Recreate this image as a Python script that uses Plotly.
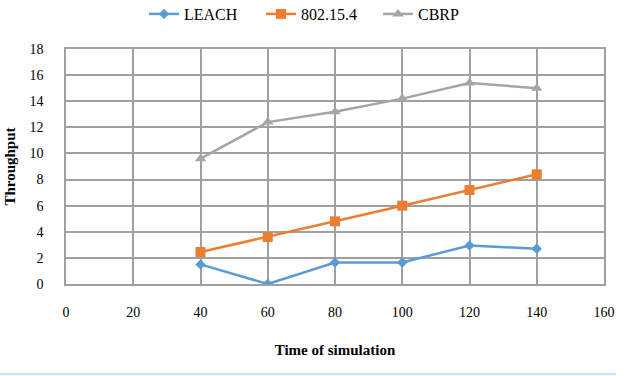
import plotly.graph_objects as go

time = [40, 60, 80, 100, 120, 140]
leach = [1.5, 0.0, 1.65, 1.65, 2.95, 2.7]
ieee = [2.45, 3.6, 4.8, 6.0, 7.2, 8.4]
cbrp = [9.6, 12.4, 13.2, 14.2, 15.4, 15.0]

series = [("LEACH", leach, "#5B9BD5", "diamond", 8),
          ("802.15.4", ieee, "#ED7D31", "square", 10),
          ("CBRP", cbrp, "#A5A5A5", "triangle-up", 10)]

fig = go.Figure()
for name, ys, col, sym, sz in series:
    fig.add_trace(go.Scatter(x=time, y=ys, name=name, mode="lines+markers",
                             line=dict(color=col, width=2.5),
                             marker=dict(symbol=sym, size=sz, color=col)))

FAM = "Liberation Serif"
font = dict(family=FAM, color="#000000", size=14)
fig.update_layout(
    width=629, height=376,
    margin=dict(l=66, r=25, t=49, b=92),
    paper_bgcolor="white", plot_bgcolor="white",
    font=font,
    showlegend=True,
    legend=dict(orientation="h", x=(144 - 66) / 538, xanchor="left",
                y=1 - 14 / 376, yanchor="middle",
                yref="container", font=dict(size=16, family=FAM),
                entrywidth=72, entrywidthmode="pixels"),
    xaxis=dict(range=[0, 160], dtick=20, tick0=0, showgrid=True, gridcolor="#A0A0A0",
               gridwidth=1.5, zeroline=False, showline=True, linecolor="#A0A0A0",
               linewidth=1.5, mirror=True, ticks="", ticklabelstandoff=14,
               automargin=False,
               tickfont=dict(family=FAM, size=14),
               title=dict(text="<b>Time of simulation</b>", font=dict(family=FAM, size=15), standoff=26)),
    yaxis=dict(range=[0, 18], dtick=2, tick0=0, showgrid=True, gridcolor="#A0A0A0",
               gridwidth=1.5, zeroline=False, showline=True, linecolor="#A0A0A0",
               linewidth=1.5, mirror=True, ticks="", ticklabelstandoff=18,
               automargin=False,
               tickfont=dict(family=FAM, size=14),
               title=dict(text="<b>Throughput</b>", font=dict(family=FAM, size=15), standoff=10)),
)
fig.add_shape(type="line", xref="paper", yref="paper", x0=-66/538, x1=616/538 - 66/538,
              y0=-90/235, y1=-90/235, line=dict(color="#C5E3F0", width=2.5))
fig.write_html("out.html")
